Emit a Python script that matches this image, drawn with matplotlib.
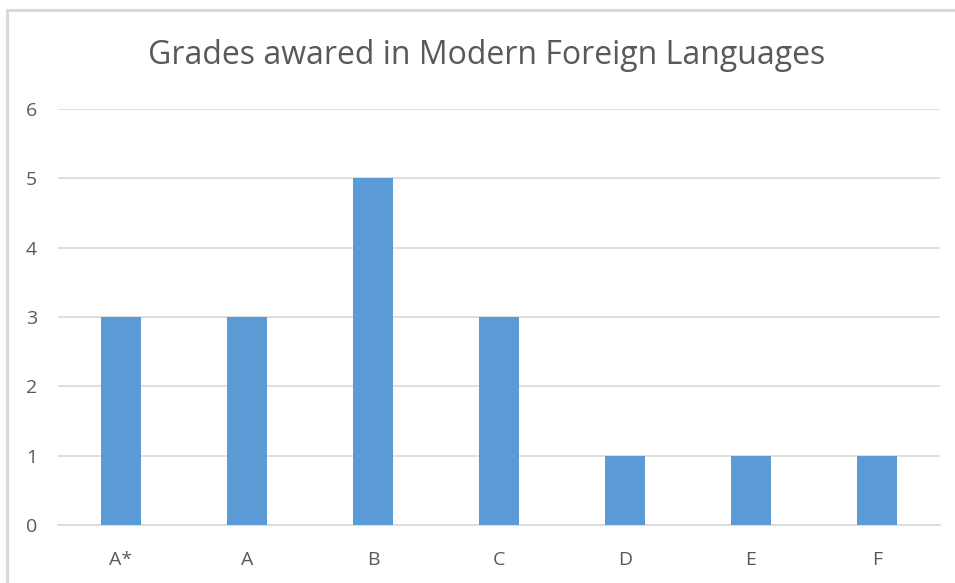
import matplotlib
matplotlib.use("Agg")
import matplotlib.pyplot as plt
from matplotlib.patches import Rectangle

categories = ["A*", "A", "B", "C", "D", "E", "F"]
values = [3, 3, 5, 3, 1, 1, 1]
yticks = [0, 1, 2, 3, 4, 5, 6]

W, H = 955, 583
fig = plt.figure(figsize=(W / 100, H / 100), dpi=100)
fig.patch.set_facecolor("white")

# chart border (extends past right/bottom edges)
fig.patches.append(Rectangle((7 / W, -0.1), 1.2, 1 - 10 / H + 0.1, transform=fig.transFigure,
                             fill=False, edgecolor="#D9D9D9", linewidth=2.2, zorder=0))

left, right, bottom, top = 58, 940, 525, 109
ax = fig.add_axes([left / W, 1 - bottom / H, (right - left) / W, (bottom - top) / H])
x = range(len(categories))
ax.bar(x, values, width=0.31, color="#5B9BD5", zorder=3)
ax.set_xlim(-0.5, len(categories) - 0.5)
ax.set_ylim(0, 6)
ax.set_yticks(yticks)
ax.set_xticks(list(x))
ax.set_xticklabels(categories)
ax.yaxis.grid(True, color="#D9D9D9", linewidth=1.2, zorder=0)
ax.set_axisbelow(True)
for s in ax.spines.values():
    s.set_visible(False)
ax.spines["bottom"].set_visible(True)
ax.spines["bottom"].set_color("#D9D9D9")
ax.spines["bottom"].set_linewidth(1.2)
ax.tick_params(length=0, colors="#595959", labelsize=14)
ax.tick_params(axis="x", pad=19)
ax.tick_params(axis="y", pad=15)
for lbl in ax.get_xticklabels() + ax.get_yticklabels():
    lbl.set_family("Open Sans")

fig.text(487 / W, 1 - 56 / H, "Grades awared in Modern Foreign Languages", ha="center", va="center",
         fontsize=23, color="#595959", family="Open Sans")

fig.savefig("out.png", dpi=100)
